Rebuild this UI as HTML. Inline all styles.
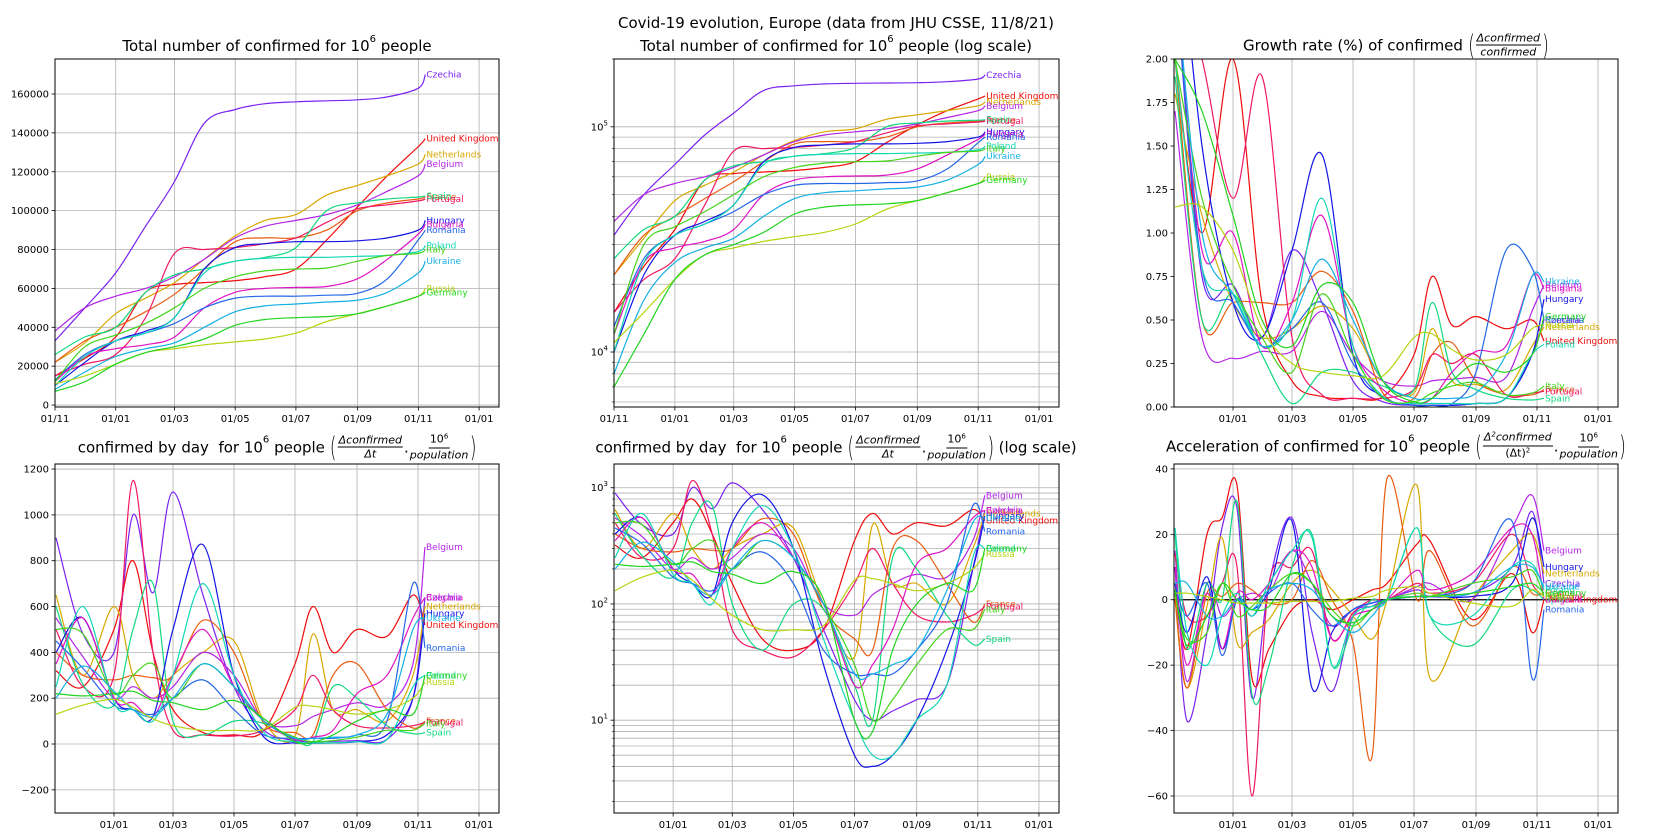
<!DOCTYPE html>
<html><head><meta charset="utf-8"><style>
body{margin:0;background:#fff;width:1675px;height:840px;overflow:hidden;position:relative;font-family:"DejaVu Sans","Liberation Sans",sans-serif}
.t{position:absolute;transform:translate(-50%,-50%);white-space:nowrap;font-size:15px;color:#000;display:flex;align-items:center}
.fr{display:inline-flex;flex-direction:column;align-items:center;font-style:italic;font-size:11px;line-height:13px;margin:0 1px}
.fr span:first-child{border-bottom:1px solid #000;padding:0 1px}
.par{font-size:28px;font-weight:100;transform:scaleX(0.6);display:inline-block;margin:0 -2px}
sup{font-size:10px;vertical-align:0;position:relative;top:-7px}
.fr sup{font-size:7px;top:-4px}
svg{position:absolute;left:0;top:0}
</style></head><body>
<div class="t" style="left:836px;top:23px">Covid-19 evolution, Europe (data from JHU CSSE, 11/8/21)</div>
<div class="t" style="left:277px;top:46px">Total number of confirmed for 10<sup>6</sup>&nbsp;people</div>
<div class="t" style="left:836px;top:46px">Total number of confirmed for 10<sup>6</sup>&nbsp;people (log scale)</div>
<div class="t" style="left:1396px;top:45px">Growth rate (%) of confirmed&nbsp;<span class="par">(</span><span class="fr"><span>Δconfirmed</span><span>confirmed</span></span><span class="par">)</span></div>
<div class="t" style="left:277px;top:447px">confirmed by day &nbsp;for 10<sup>6</sup>&nbsp;people&nbsp;<span class="par">(</span><span class="fr"><span>Δconfirmed</span><span>Δt</span></span>.<span class="fr"><span style="font-style:normal">10<sup>6</sup></span><span>population</span></span><span class="par">)</span></div>
<div class="t" style="left:836px;top:447px">confirmed by day &nbsp;for 10<sup>6</sup>&nbsp;people&nbsp;<span class="par">(</span><span class="fr"><span>Δconfirmed</span><span>Δt</span></span>.<span class="fr"><span style="font-style:normal">10<sup>6</sup></span><span>population</span></span><span class="par">)</span>&nbsp;(log scale)</div>
<div class="t" style="left:1396px;top:446px">Acceleration of confirmed for 10<sup>6</sup>&nbsp;people&nbsp;<span class="par">(</span><span class="fr"><span>Δ<sup>2</sup>confirmed</span><span style="font-style:normal">(Δt)<sup>2</sup></span></span>.<span class="fr"><span style="font-style:normal">10<sup>6</sup></span><span>population</span></span><span class="par">)</span></div>
<svg id="chart" width="1675" height="840"></svg>
<script>
// ---- data ----
const countries=["Czechia","United Kingdom","Netherlands","Belgium","France","Portugal","Spain","Hungary","Bulgaria","Romania","Poland","Italy","Ukraine","Russia","Germany"];
const colors=["#7b22f2","#f00a0a","#d8a800","#b424e6","#e85c10","#f01866","#12d880","#1414e6","#e014c4","#2466e8","#12d8b4","#44d41c","#14b0e4","#b4d410","#22d422"];
const tickDays=[0,61,120,181,242,304,365,426];
const tickLabelsTop=["01/11","01/01","01/03","01/05","01/07","01/09","01/11","01/01"];
// cumulative per 1e6 (panels 1 and 2)
const cumDays=[0,30,61,91,120,150,181,211,242,273,304,334,365,372];
const cum_Czechia=[33000,50000,68000,92000,115000,145000,152000,155000,156000,156500,157000,158500,163000,170000];
const cum_UK=[15000,24000,35000,58000,62000,63000,64000,66000,70000,85000,102000,118000,133000,137000];
const cum_Netherlands=[22000,32000,47000,55000,63000,75000,87000,95000,98000,108000,113000,118000,124000,129000];
const cum_Belgium=[38000,50000,56000,60000,66000,75000,86000,92000,95000,98000,103000,110000,118000,124000];
const cum_France=[22000,33000,40000,48000,57000,70000,84000,86000,86000,90000,100000,104000,106000,107000];
const cum_Portugal=[15000,21000,26000,45000,78000,80000,81000,83000,86000,94000,101000,103000,105000,106000];
const cum_Spain=[26000,35000,40000,58000,67000,70000,74000,76000,81000,100000,104000,106000,107000,107500];
const cum_Hungary=[10000,22000,33000,38000,45000,70000,81000,83000,84000,84000,84500,86000,90000,95000];
const cum_Bulgaria=[12000,25000,29000,31000,35000,50000,58000,60000,60500,61000,65000,75000,88000,93000];
const cum_Romania=[13000,26000,33000,37000,42000,50000,55000,56000,56000,56500,57500,65000,85000,90000];
const cum_Poland=[10000,25000,33000,37000,45000,68000,74000,75500,76000,76000,76500,77000,79000,82000];
const cum_Italy=[12000,30000,36000,42000,50000,60000,66000,69000,70000,70500,74000,77000,78000,80000];
const cum_Ukraine=[8000,17000,25000,29000,32000,40000,48000,51000,52000,53000,54000,58000,68000,74000];
const cum_Russia=[11000,15000,21000,27000,29000,31000,32500,34000,37000,43000,47000,51000,56000,60000];
const cum_Germany=[7000,12000,21000,27000,30000,34000,41000,44000,45000,45500,47000,51000,56000,58000];
// growth rate % (panel 3)
const grDays=[3,30,61,90,120,150,181,211,242,260,280,304,334,360,372];
const gr_Czechia=[2.5,0.75,0.7,0.4,0.9,0.6,0.15,0.03,0.01,0.01,0.01,0.02,0.05,0.3,0.5];
const gr_UK=[2.0,1.0,2.0,0.6,0.15,0.06,0.05,0.06,0.3,0.75,0.47,0.52,0.45,0.5,0.38];
const gr_Netherlands=[1.8,1.1,0.6,0.4,0.45,0.58,0.45,0.15,0.08,0.45,0.15,0.13,0.1,0.35,0.46];
const gr_Belgium=[1.7,0.4,0.28,0.32,0.32,0.55,0.3,0.15,0.12,0.15,0.16,0.17,0.17,0.55,0.7];
const gr_France=[2.0,0.5,0.6,0.6,0.6,0.78,0.55,0.08,0.05,0.3,0.37,0.15,0.07,0.07,0.1];
const gr_Portugal=[2.5,2.0,1.2,1.9,0.4,0.07,0.05,0.05,0.1,0.3,0.25,0.3,0.07,0.08,0.09];
const gr_Spain=[1.9,0.5,0.65,0.3,0.02,0.2,0.2,0.12,0.1,0.6,0.2,0.1,0.05,0.04,0.05];
const gr_Hungary=[3.0,1.5,0.6,0.4,0.9,1.45,0.3,0.06,0.01,0.01,0.01,0.02,0.05,0.3,0.62];
const gr_Bulgaria=[2.5,0.9,1.0,0.35,0.6,1.1,0.35,0.1,0.02,0.05,0.2,0.32,0.35,0.75,0.68];
const gr_Romania=[2.5,0.8,0.6,0.35,0.45,0.6,0.25,0.05,0.01,0.01,0.02,0.2,0.9,0.8,0.5];
const gr_Poland=[2.0,0.8,0.65,0.35,0.5,1.2,0.35,0.06,0.02,0.02,0.02,0.02,0.05,0.3,0.36];
const gr_Italy=[2.0,1.2,0.7,0.4,0.2,0.65,0.3,0.05,0.03,0.08,0.12,0.14,0.07,0.08,0.12];
const gr_Ukraine=[2.5,1.0,0.65,0.35,0.5,0.85,0.5,0.15,0.05,0.05,0.05,0.08,0.3,0.75,0.72];
const gr_Russia=[1.15,1.15,0.9,0.45,0.25,0.2,0.18,0.18,0.4,0.42,0.33,0.27,0.3,0.45,0.47];
const gr_Germany=[2.0,1.7,1.1,0.5,0.35,0.7,0.6,0.15,0.03,0.05,0.15,0.25,0.2,0.3,0.52];
// daily per 1e6 (panels 4 and 5)
const dDays=[3,30,61,80,100,120,150,181,211,242,260,280,304,334,360,372];
const d_Czechia=[900,480,400,1000,660,1100,650,250,60,15,10,12,15,20,200,640];
const d_UK=[320,250,500,800,400,150,50,40,60,350,600,400,500,470,650,520];
const d_Netherlands=[650,300,600,300,200,300,400,450,100,35,480,150,150,100,300,600];
const d_Belgium=[550,380,200,250,200,250,400,300,100,80,120,150,180,170,350,860];
const d_France=[400,300,280,300,290,300,540,400,90,50,40,300,350,150,70,100];
const d_Portugal=[500,250,300,1150,400,60,40,35,60,150,300,150,80,70,80,95];
const d_Spain=[600,260,170,500,700,100,40,100,90,20,10,250,200,80,45,50];
const d_Hungary=[400,550,200,150,120,500,870,300,30,5,4,5,10,40,200,570];
const d_Bulgaria=[350,550,200,180,120,300,500,250,100,20,30,60,220,300,550,640];
const d_Romania=[450,330,170,150,130,200,280,150,40,25,25,25,40,100,700,420];
const d_Poland=[250,600,180,150,100,300,700,300,50,10,5,5,10,20,250,300];
const d_Italy=[500,480,220,300,350,200,350,250,100,30,10,15,30,60,60,90];
const d_Ukraine=[200,340,230,150,120,200,350,250,100,25,25,30,40,130,500,550];
const d_Russia=[130,170,195,160,110,80,60,60,65,160,165,150,130,150,200,270];
const d_Germany=[220,210,220,230,190,180,150,190,110,10,8,40,100,150,130,300];
// acceleration (panel 6)
const aDays=[3,15,35,50,65,80,97,120,140,160,181,200,215,245,258,300,340,360,372];
const a_Czechia=[10,-37,-10,22,28,-30,5,25,-10,-28,-5,-2,0,3,1,2,10,27,5];
const a_UK=[5,-15,20,25,35,-24,-15,-3,0,-3,0,3,5,17,18,-6,8,-10,0];
const a_Netherlands=[2,-27,-2,19,-13,-10,-6,5,9,3,-5,-12,0,35,-24,0,15,20,8];
const a_Belgium=[15,-25,5,-5,0,2,2,15,5,-8,-3,-1,0,4,5,0,22,32,15];
const a_France=[0,-27,2,1,5,3,-1,0,12,0,-13,-48,37,0,15,-8,10,2,2];
const a_Portugal=[14,-5,-5,5,10,-60,5,10,15,-12,-4,0,0,5,2,5,20,5,1];
const a_Spain=[20,-15,5,0,30,-29,-20,10,20,-20,-8,0,0,22,-5,-14,3,3,0];
const a_Hungary=[5,-10,7,-15,0,-3,3,24,-27,-10,-3,-1,0,1,1,1,5,25,10];
const a_Bulgaria=[10,-20,2,-15,2,0,5,15,10,-12,-5,-3,0,9,3,8,22,20,0];
const a_Romania=[5,-5,5,-17,0,-5,2,5,-3,-8,-3,-1,0,1,1,5,24,-24,-3];
const a_Poland=[22,-10,-20,-5,2,-5,5,15,19,-20,-5,-2,0,22,-5,-5,10,11,3];
const a_Italy=[2,-12,-10,5,-5,-2,3,8,5,-3,-8,-3,0,2,1,5,7,9,1];
const a_Ukraine=[5,5,-5,-5,0,-3,3,5,3,-5,-10,-5,0,1,1,2,10,10,4];
const a_Russia=[2,2,1,0,-1,-1,-1,-0.5,-0.5,-0.5,0.5,1,3,4,2,-1,-2,3,1];
const a_Germany=[3,-14,-5,5,0,-3,-2,8,5,-5,-7,-3,0,1,1,2,4,5,2];

const cumS=[cum_Czechia,cum_UK,cum_Netherlands,cum_Belgium,cum_France,cum_Portugal,cum_Spain,cum_Hungary,cum_Bulgaria,cum_Romania,cum_Poland,cum_Italy,cum_Ukraine,cum_Russia,cum_Germany];
const grS=[gr_Czechia,gr_UK,gr_Netherlands,gr_Belgium,gr_France,gr_Portugal,gr_Spain,gr_Hungary,gr_Bulgaria,gr_Romania,gr_Poland,gr_Italy,gr_Ukraine,gr_Russia,gr_Germany];
const dS=[d_Czechia,d_UK,d_Netherlands,d_Belgium,d_France,d_Portugal,d_Spain,d_Hungary,d_Bulgaria,d_Romania,d_Poland,d_Italy,d_Ukraine,d_Russia,d_Germany];
const aS=[a_Czechia,a_UK,a_Netherlands,a_Belgium,a_France,a_Portugal,a_Spain,a_Hungary,a_Bulgaria,a_Romania,a_Poland,a_Italy,a_Ukraine,a_Russia,a_Germany];

// ---- drawing ----
const NS="http://www.w3.org/2000/svg";
const svg=document.getElementById('chart');
function mk(tag,attrs,parent){const e=document.createElementNS(NS,tag);for(const k in attrs)e.setAttribute(k,attrs[k]);(parent||svg).appendChild(e);return e;}
function spline(p){let d="M"+p[0][0].toFixed(1)+","+p[0][1].toFixed(1);for(let i=0;i<p.length-1;i++){const p0=p[i-1]||p[i],p1=p[i],p2=p[i+1],p3=p[i+2]||p2;const c1x=p1[0]+(p2[0]-p0[0])/6,c1y=p1[1]+(p2[1]-p0[1])/6,c2x=p2[0]-(p3[0]-p1[0])/6,c2y=p2[1]-(p3[1]-p1[1])/6;d+="C"+c1x.toFixed(1)+","+c1y.toFixed(1)+" "+c2x.toFixed(1)+","+c2y.toFixed(1)+" "+p2[0].toFixed(1)+","+p2[1].toFixed(1);}return d;}
let pid=0;
function panel(o){
 pid++;
 const g=mk('g',{});
 
 
 const {x0,x1,y0,y1}=o.box;
 const X=d=>x0+(d-o.xmin)/(o.xmax-o.xmin)*(x1-x0);
 const Y=o.log?(v=>{const l=Math.log10(Math.max(v,1e-3));return y1-(l-Math.log10(o.ymin))/(Math.log10(o.ymax)-Math.log10(o.ymin))*(y1-y0);}):(v=>y1-(v-o.ymin)/(o.ymax-o.ymin)*(y1-y0));
 const cp=mk('clipPath',{id:'c'+pid},g);mk('rect',{x:x0,y:y0,width:x1-x0,height:y1-y0},cp);
 tickDays.forEach((d,i)=>{const x=X(d);if(x<x0-0.5||x>x1)return;
  const gl=mk('line',{x1:x,x2:x,y1:y0,y2:y1,stroke:'#b0b0b0','stroke-width':0.8},g);
  
  
  mk('line',{x1:x,x2:x,y1:y1,y2:y1+3.5,stroke:'#000','stroke-width':0.8},g);
  if(!o.topLabels&&i==0)return;
  const t=mk('text',{x:x,y:y1+15,'text-anchor':'middle','font-size':10},g);t.textContent=tickLabelsTop[i];
  
  
 });
 if(o.minor){o.minor.forEach(v=>{const y=Y(v);if(y<y0||y>y1)return;mk('line',{x1:x0,x2:x1,y1:y,y2:y,stroke:'#b0b0b0','stroke-width':0.8},g);mk('line',{x1:x0-2,x2:x0,y1:y,y2:y,stroke:'#000','stroke-width':0.6},g);});}
 o.yticks.forEach((v,i)=>{const y=Y(v);
  if(o.hgrid!==false)mk('line',{x1:x0,x2:x1,y1:y,y2:y,stroke:'#b0b0b0','stroke-width':0.8},g);
  mk('line',{x1:x0-3.5,x2:x0,y1:y,y2:y,stroke:'#000','stroke-width':0.8},g);
  const t=mk('text',{x:x0-6,y:y+3.5,'text-anchor':'end','font-size':10},g);
  
  
  if(o.log){t.textContent='10';const s=mk('tspan',{dy:-5,'font-size':7},t);s.textContent=String(Math.round(Math.log10(v)));}
  else t.textContent=o.fmt?o.fmt(v):String(v).replace('-','−');
 });
 if(o.zeroLine){const zl=mk('line',{x1:x0,x2:x1,y1:Y(0),y2:Y(0),stroke:'#000','stroke-width':1.2},g);}
 const lg=mk('g',{'clip-path':'url(#c'+pid+')'},g);
 o.series.forEach((s,k)=>{
  const pts=o.days.map((d,i)=>[X(d),Y(s[i])]);
  const p=mk('path',{d:spline(pts),fill:'none',stroke:colors[k],'stroke-width':1.2},lg);
  
  
 });
 o.series.forEach((s,k)=>{
  const last=s[s.length-1];let y=Y(last);y=Math.max(y0+4,Math.min(y1,y));
  const t=mk('text',{x:X(o.days[o.days.length-1])+1,y:y+3,'font-size':9,fill:colors[k]},g);t.textContent=countries[k];
  
  
 });
 const fr=mk('rect',{x:x0,y:y0,width:x1-x0,height:y1-y0,fill:'none',stroke:'#000','stroke-width':1},g);
 
 
}
function minorTicks(a,b){const r=[];for(let e=a;e<=b;e++)for(let m=2;m<=9;m++)r.push(m*Math.pow(10,e));return r;}
panel({name:'panel-total-confirmed',box:{x0:55,x1:499,y0:59,y1:407},xmin:0,xmax:446,ymin:-1000,ymax:178000,yticks:[0,20000,40000,60000,80000,100000,120000,140000,160000],days:cumDays,series:cumS,topLabels:true});
panel({name:'panel-total-confirmed-log',box:{x0:614,x1:1059,y0:59,y1:407},xmin:0,xmax:446,log:true,ymin:5700,ymax:200000,yticks:[10000,100000],minor:minorTicks(3,5),days:cumDays,series:cumS,topLabels:true});
panel({name:'panel-growth-rate',box:{x0:1174,x1:1618,y0:59,y1:407},xmin:2,xmax:446,ymin:0,ymax:2,yticks:[0,0.25,0.5,0.75,1,1.25,1.5,1.75,2],fmt:v=>v.toFixed(2),hgrid:false,days:grDays,series:grS});
panel({name:'panel-daily',box:{x0:55,x1:499,y0:464,y1:813},xmin:2,xmax:446,ymin:-301,ymax:1222,yticks:[-200,0,200,400,600,800,1000,1200],days:dDays,series:dS});
panel({name:'panel-daily-log',box:{x0:614,x1:1059,y0:464,y1:813},xmin:2,xmax:446,log:true,ymin:1.59,ymax:1600,yticks:[10,100,1000],minor:minorTicks(0,3),days:dDays,series:dS});
panel({name:'panel-acceleration',box:{x0:1174,x1:1618,y0:464,y1:813},xmin:2,xmax:446,ymin:-65.2,ymax:41.5,yticks:[-60,-40,-20,0,20,40],zeroLine:true,days:aDays,series:aS});
</script>
</body></html>
